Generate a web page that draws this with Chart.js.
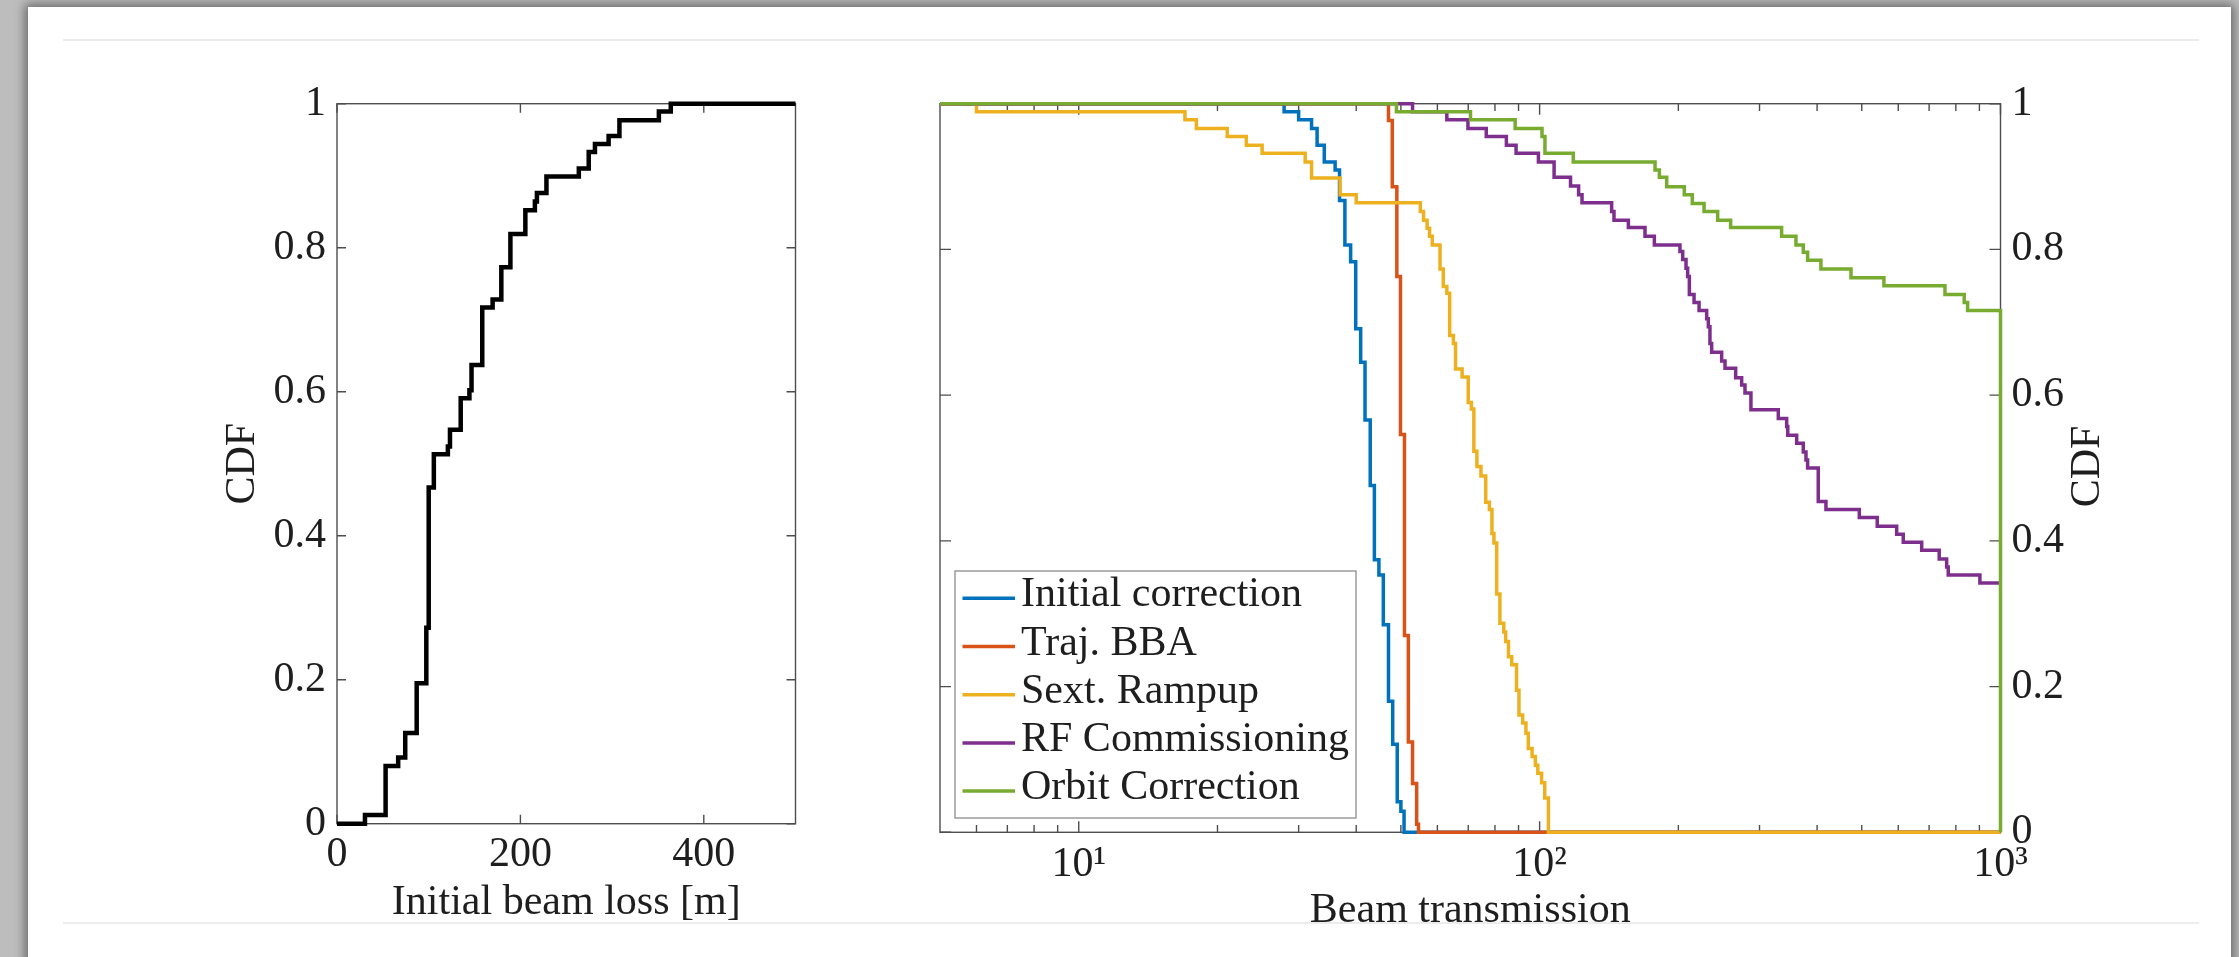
<!DOCTYPE html>
<html>
<head>
<meta charset="utf-8">
<script src="https://cdn.jsdelivr.net/npm/chart.js@4.4.1/dist/chart.umd.min.js"></script>
<style>
  html, body { margin: 0; padding: 0; width: 2239px; height: 957px; overflow: hidden; background: #bdbdbd; }
  #card { position: absolute; left: 28px; top: 7px; width: 2203px; height: 1000px; background: #fff;
          box-shadow: 0 0 10px 3px rgba(0,0,0,0.45); }
  .rule { position: absolute; left: 63px; width: 2136px; height: 0; border-top: 2px solid #ececec; }
  canvas { position: absolute; top: 0; }
</style>
</head>
<body>
<div id="card"></div>
<div class="rule" style="top:39px"></div>
<div class="rule" style="top:922px"></div>
<canvas id="lossChart" width="710" height="957" style="left:150px"></canvas>
<canvas id="transChart" width="1359" height="957" style="left:880px"></canvas>

<script>
// ---- Initial beam loss: empirical CDF ----
const lossX   = [0, 30.5, 53.0, 66.7, 74.4, 86.9, 97.4, 100.0, 105.6, 120.9, 123.2, 134.9, 144.4, 146.7, 158.4,
                 169.7, 179.2, 189.1, 205.4, 215.8, 218.0, 228.4, 263.7, 274.5, 281.3, 296.2, 308.0, 351.0, 364.0, 500];
const lossCdf = [0, 0.012, 0.080, 0.092, 0.126, 0.195, 0.272, 0.467, 0.513, 0.524, 0.547, 0.591, 0.602, 0.637, 0.717,
                 0.728, 0.773, 0.819, 0.852, 0.864, 0.876, 0.899, 0.910, 0.933, 0.944, 0.955, 0.977, 0.989, 1.0, 1.0];
const lossTicks = [0, 200, 400];
const cdfTicks  = [0, 0.2, 0.4, 0.6, 0.8, 1];

// ---- Beam transmission per commissioning stage (complementary CDF) ----
const stageNames  = ['Initial correction', 'Traj. BBA', 'Sext. Rampup', 'RF Commissioning', 'Orbit Correction'];
const stageColors = ['#0072BD', '#D95319', '#EDB120', '#7E2F8E', '#77AC30'];

const initCorrX = [5, 27.9, 30.0, 32.0, 32.9, 34.1, 36.0, 36.8, 37.8, 38.9, 39.9, 40.9, 41.8, 42.9, 43.8, 44.8,
                   45.8, 47.0, 48.0, 49.1, 50.0, 50.8, 1000];
const initCorrY = [1, 0.989, 0.978, 0.966, 0.943, 0.920, 0.909, 0.867, 0.806, 0.783, 0.691, 0.645, 0.566, 0.476,
                   0.374, 0.353, 0.285, 0.180, 0.121, 0.042, 0.029, 0, 0];

const trajBbaX = [5, 47.0, 47.9, 49.0, 49.9, 50.9, 51.9, 53.0, 54.1, 54.6, 1000];
const trajBbaY = [1, 0.977, 0.886, 0.763, 0.546, 0.270, 0.124, 0.067, 0.011, 0, 0];

const sextX = [5, 6.0, 17.0, 18.0, 21.0, 23.1, 25.0, 31.0, 32.0, 36.9, 40.0, 55.1, 56.0, 57.0, 57.7, 58.5, 60.8,
               61.8, 62.9, 63.8, 65.0, 65.7, 67.9, 70.0, 71.1, 72.0, 73.1, 74.6, 76.4, 77.8, 78.8, 79.6, 80.7, 82.0,
               83.6, 84.4, 85.6, 87.0, 89.1, 90.2, 91.9, 93.4, 94.5, 96.3, 97.9, 99.1, 101.0, 102.6, 104.5, 1000];
const sextY = [1, 0.989, 0.978, 0.966, 0.955, 0.943, 0.932, 0.920, 0.898, 0.875, 0.864, 0.852, 0.840, 0.829, 0.818,
               0.806, 0.773, 0.749, 0.740, 0.682, 0.671, 0.636, 0.625, 0.590, 0.581, 0.523, 0.502, 0.489, 0.453, 0.443,
               0.410, 0.397, 0.327, 0.287, 0.275, 0.262, 0.241, 0.230, 0.195, 0.161, 0.150, 0.136, 0.115, 0.104, 0.092,
               0.081, 0.068, 0.047, 0, 0];

const rfX = [5, 53.0, 62.9, 69.9, 76.6, 84.7, 88.9, 99.4, 107.5, 116.7, 121.5, 123.6, 143.3, 145.0, 155.8, 169.3,
             177.4, 201.6, 204.4, 207.8, 209.5, 211.3, 216.3, 221.8, 230.4, 232.3, 234.2, 236.2, 248.3, 252.5, 266.3,
             274.4, 279.0, 287.4, 329.5, 343.6, 345.5, 361.2, 373.3, 378.4, 381.5, 402.3, 418.1, 493.9, 540.2, 595.3,
             615.2, 674.5, 736.2, 764.1, 770.2, 902.2, 1000];
const rfY = [1, 0.989, 0.978, 0.966, 0.955, 0.943, 0.932, 0.920, 0.899, 0.887, 0.875, 0.864, 0.852, 0.840, 0.830,
             0.818, 0.806, 0.797, 0.786, 0.774, 0.763, 0.738, 0.727, 0.716, 0.705, 0.694, 0.671, 0.659, 0.647, 0.637,
             0.624, 0.614, 0.603, 0.580, 0.568, 0.557, 0.545, 0.534, 0.522, 0.511, 0.500, 0.454, 0.443, 0.432, 0.420,
             0.409, 0.398, 0.387, 0.375, 0.364, 0.353, 0.342, 0.342];

const orbitX = [5, 48.9, 70.8, 88.5, 101.2, 102.7, 118.3, 178.0, 181.9, 188.7, 206.0, 214.4, 227.4, 243.4, 259.7,
                335.0, 359.9, 373.3, 381.5, 407.7, 473.8, 558.5, 757.7, 834.2, 848.4, 1000];
const orbitY = [1, 0.989, 0.978, 0.966, 0.955, 0.932, 0.920, 0.909, 0.899, 0.886, 0.875, 0.863, 0.852, 0.840, 0.830,
                0.818, 0.806, 0.796, 0.785, 0.773, 0.761, 0.750, 0.738, 0.727, 0.716, 0];

const decadeTicks  = [10, 100, 1000];
const decadeLabels = ['10\u00B9', '10\u00B2', '10\u00B3'];
const minorTicks   = [6, 7, 8, 9, 20, 30, 40, 50, 60, 70, 80, 90, 200, 300, 400, 500, 600, 700, 800, 900];

const cdfTitle = 'CDF';

// ---- shared styling ----
const FONT = { family: 'Liberation Serif', size: 42 };
const TEXT = '#1e1e1e';
const AXIS = '#4d4d4d';

// Box around the plot area with inward ticks on all four sides.
function boxTicks(major, minor) {
  return {
    id: 'boxTicks',
    beforeDatasetsDraw(chart) {
      const { ctx, chartArea: a, scales } = chart;
      ctx.save();
      ctx.strokeStyle = AXIS;
      ctx.lineWidth = 1.4;
      ctx.strokeRect(a.left, a.top, a.right - a.left, a.bottom - a.top);
      ctx.beginPath();
      const xTicks = (vals, len) => vals.forEach(v => {
        const px = scales.x.getPixelForValue(v);
        ctx.moveTo(px, a.bottom); ctx.lineTo(px, a.bottom - len);
        ctx.moveTo(px, a.top);    ctx.lineTo(px, a.top + len);
      });
      const yTicks = (vals, len) => vals.forEach(v => {
        const py = scales.y.getPixelForValue(v);
        ctx.moveTo(a.left, py);  ctx.lineTo(a.left + len, py);
        ctx.moveTo(a.right, py); ctx.lineTo(a.right - len, py);
      });
      xTicks(major.x, major.len);
      yTicks(major.y, major.len);
      if (minor) xTicks(minor.x, minor.len);
      ctx.stroke();
      ctx.restore();
    }
  };
}

const pts = (xs, ys) => xs.map((x, i) => ({ x, y: ys[i] }));
const setTicks = vals => scale => { scale.ticks = vals.map(v => ({ value: v })); };

// ---- left panel ----
new Chart(document.getElementById('lossChart'), {
  type: 'line',
  data: {
    datasets: [{
      data: pts(lossX, lossCdf),
      borderColor: '#000', borderWidth: 4.5, pointRadius: 0, stepped: true, clip: false, fill: false
    }]
  },
  options: {
    responsive: false, animation: false, devicePixelRatio: 1,
    layout: { padding: { top: 103.7, right: 64.5, left: 0, bottom: 0 } },
    plugins: { legend: { display: false }, tooltip: { enabled: false } },
    scales: {
      x: {
        type: 'linear', min: 0, max: 500,
        afterBuildTicks: setTicks(lossTicks),
        afterFit: s => { s.height = 133.3; },
        grid: { display: false, drawTicks: false }, border: { display: false },
        ticks: { font: FONT, color: TEXT, padding: 6, maxRotation: 0, autoSkip: false, callback: v => String(v) },
        title: { display: true, text: 'Initial beam loss [m]', font: FONT, color: TEXT, padding: { top: 0, bottom: 28.5 } }
      },
      y: {
        type: 'linear', min: 0, max: 1,
        afterBuildTicks: setTicks(cdfTicks),
        afterFit: s => { s.width = 187; },
        grid: { display: false, drawTicks: false }, border: { display: false },
        ticks: { font: FONT, color: TEXT, padding: 11, autoSkip: false, callback: v => String(v) },
        title: { display: true, text: cdfTitle, font: FONT, color: TEXT, padding: { top: 67.8, bottom: 0 } }
      }
    }
  },
  plugins: [boxTicks({ x: lossTicks, y: cdfTicks, len: 9 })]
});

// ---- right panel ----
const stageX = [initCorrX, trajBbaX, sextX, rfX, orbitX];
const stageY = [initCorrY, trajBbaY, sextY, rfY, orbitY];

const legendBox = {
  id: 'legendBox',
  afterDatasetsDraw(chart) {
    const { ctx, chartArea: a } = chart;
    const left = a.left + 15, w = 401, h = 247, top = a.bottom - 14.3 - h;
    ctx.save();
    ctx.fillStyle = '#fff';
    ctx.fillRect(left, top, w, h);
    ctx.strokeStyle = '#8c8c8c';
    ctx.lineWidth = 1.3;
    ctx.strokeRect(left, top, w, h);
    ctx.font = `${FONT.size}px "${FONT.family}"`;
    ctx.textBaseline = 'middle';
    ctx.textAlign = 'left';
    chart.data.datasets.forEach((ds, i) => {
      const y = top + 27.3 + i * 48.2;
      ctx.strokeStyle = ds.borderColor;
      ctx.lineWidth = 3.5;
      ctx.beginPath();
      ctx.moveTo(left + 7.5, y);
      ctx.lineTo(left + 60, y);
      ctx.stroke();
      ctx.fillStyle = TEXT;
      ctx.fillText(ds.label, left + 66, y - 3);
    });
    ctx.restore();
  }
};

const rightTitle = {
  id: 'rightTitle',
  afterDraw(chart) {
    const { ctx, chartArea: a } = chart;
    ctx.save();
    ctx.translate(a.right + 87, (a.top + a.bottom) / 2 - 1.5);
    ctx.rotate(-Math.PI / 2);
    ctx.font = `${FONT.size}px "${FONT.family}"`;
    ctx.fillStyle = TEXT;
    ctx.textAlign = 'center';
    ctx.textBaseline = 'middle';
    ctx.fillText(cdfTitle, 0, 0);
    ctx.restore();
  }
};

new Chart(document.getElementById('transChart'), {
  type: 'line',
  data: {
    // later stages are drawn on top of earlier ones
    datasets: stageNames.map((name, i) => ({
      label: name,
      order: stageNames.length - 1 - i,
      data: pts(stageX[i], stageY[i]),
      borderColor: stageColors[i], borderWidth: 3.5, pointRadius: 0, stepped: true, clip: false, fill: false
    }))
  },
  options: {
    responsive: false, animation: false, devicePixelRatio: 1,
    layout: { padding: { top: 103.7, right: 0, left: 60, bottom: 0 } },
    plugins: { legend: { display: false }, tooltip: { enabled: false } },
    scales: {
      x: {
        type: 'logarithmic', min: 5, max: 1000,
        afterBuildTicks: setTicks(decadeTicks),
        afterFit: s => { s.height = 124.7; },
        grid: { display: false, drawTicks: false }, border: { display: false },
        ticks: { font: FONT, color: TEXT, padding: 7.2, maxRotation: 0, autoSkip: false,
                 callback: v => decadeLabels[decadeTicks.indexOf(v)] },
        title: { display: true, text: 'Beam transmission', font: FONT, color: TEXT, padding: { top: 0, bottom: 20.5 } }
      },
      y: {
        type: 'linear', position: 'right', min: 0, max: 1,
        afterBuildTicks: setTicks(cdfTicks),
        afterFit: s => { s.width = 238.5; },
        grid: { display: false, drawTicks: false }, border: { display: false },
        ticks: { font: FONT, color: TEXT, padding: 11, autoSkip: false, callback: v => String(v) }
      }
    }
  },
  plugins: [boxTicks({ x: decadeTicks, y: cdfTicks, len: 11 }, { x: minorTicks, len: 7.3 }), legendBox, rightTitle]
});
</script>
</body>
</html>
